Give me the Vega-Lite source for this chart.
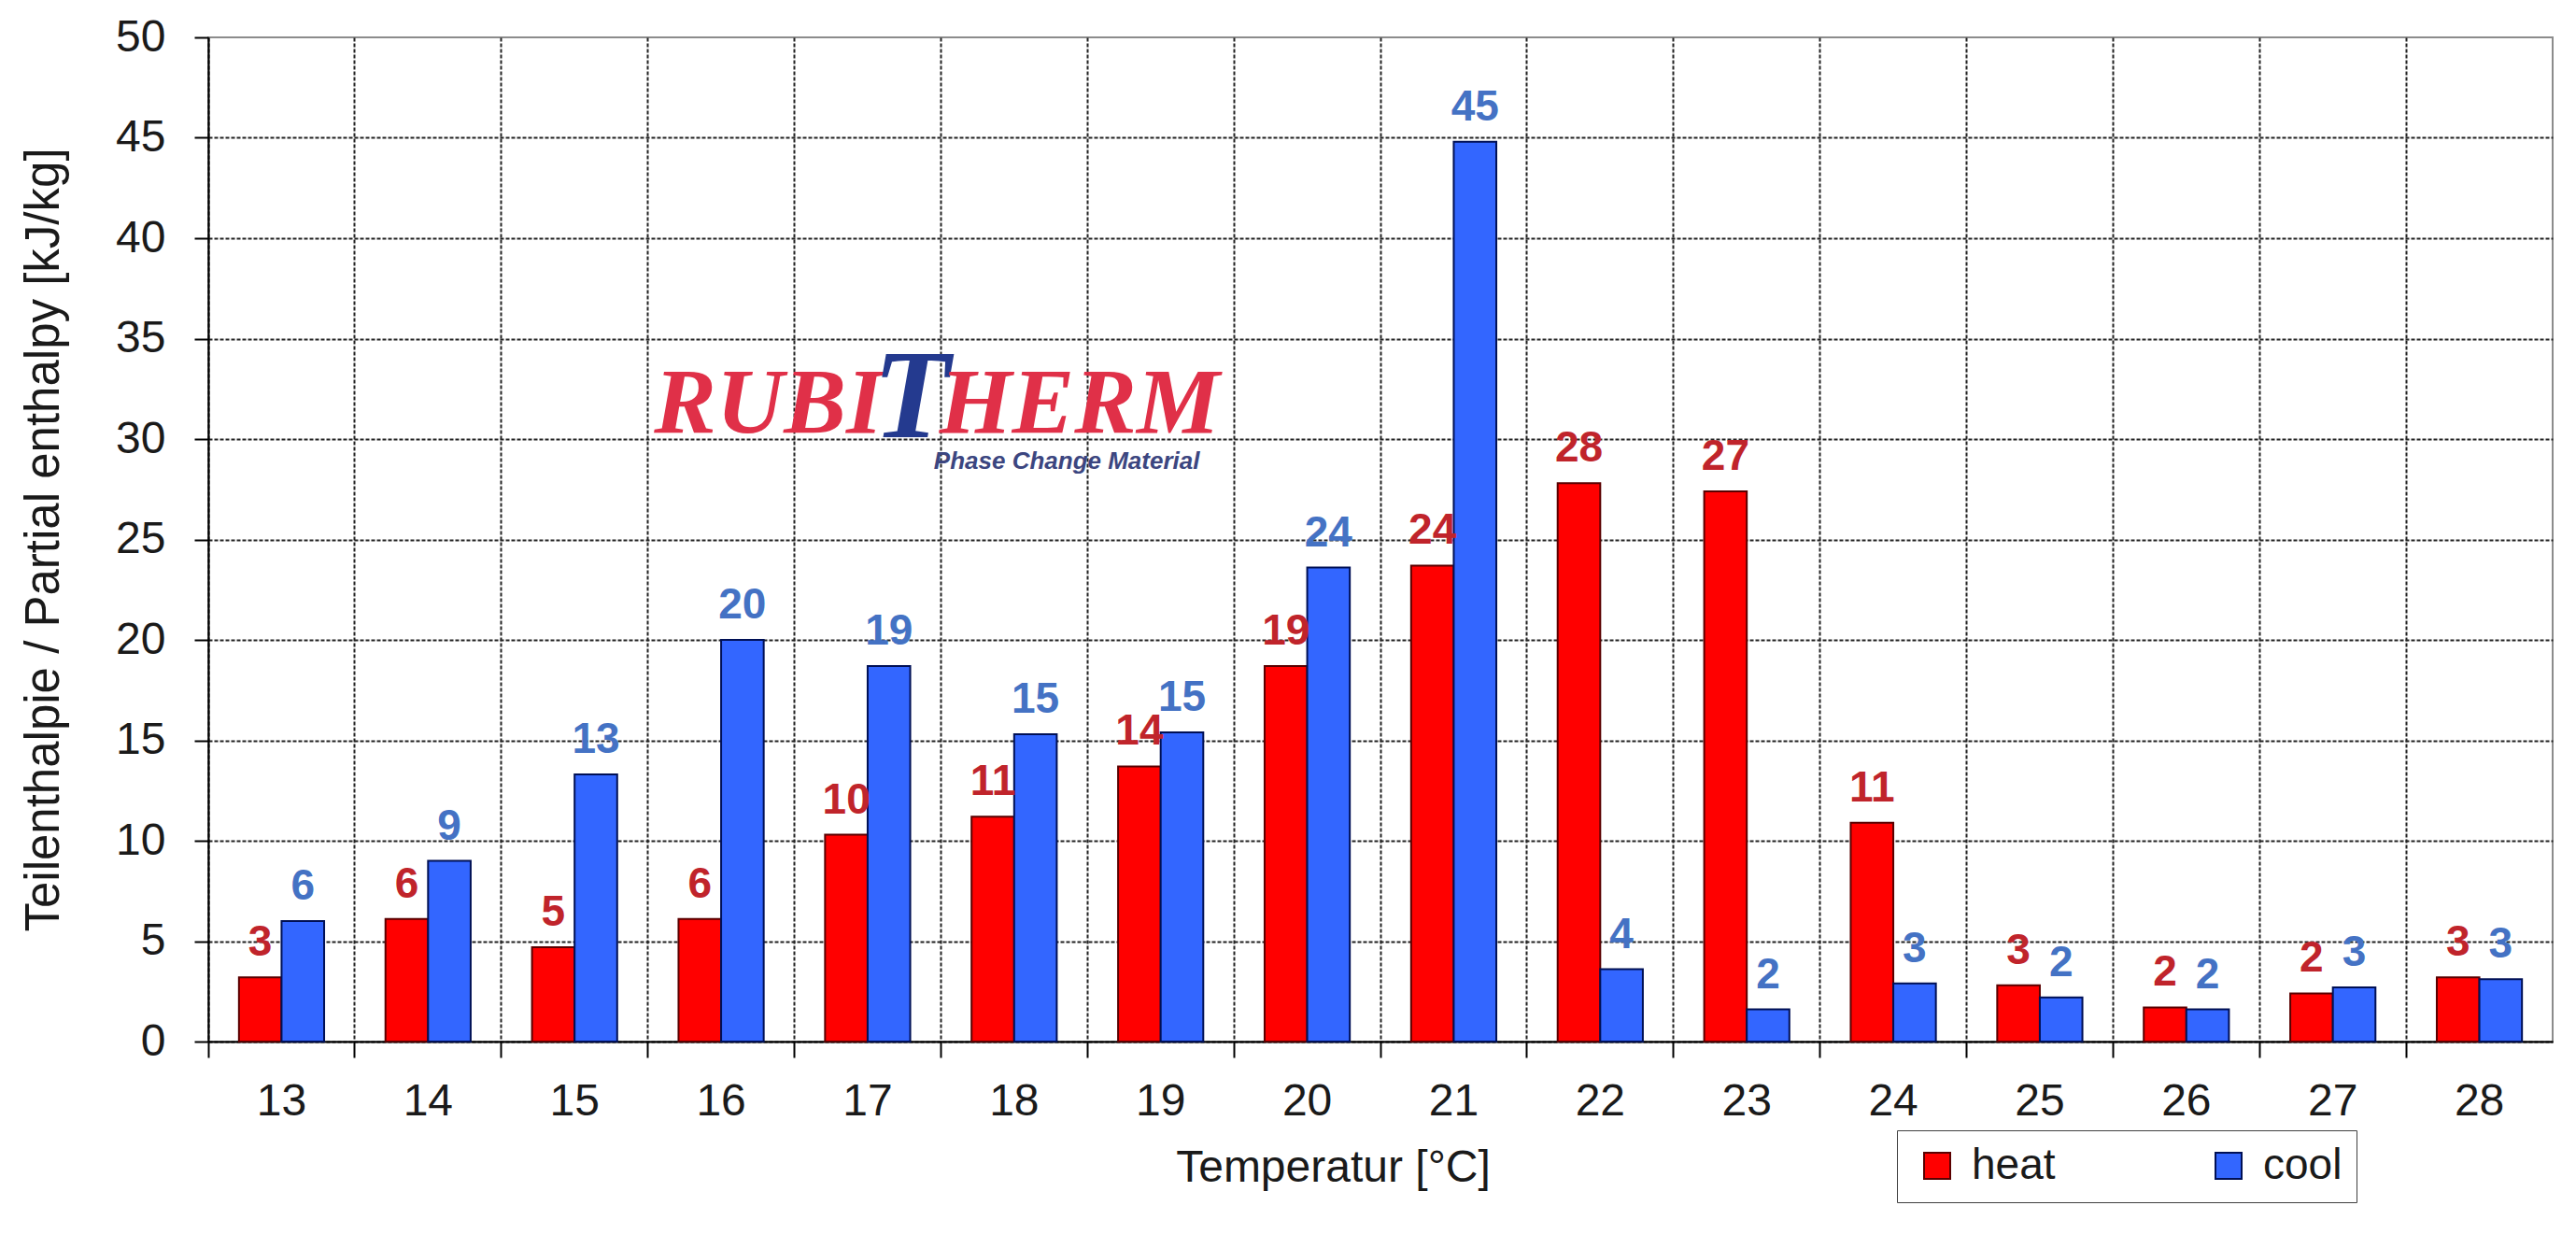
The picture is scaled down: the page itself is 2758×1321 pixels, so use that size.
{
  "$schema": "https://vega.github.io/schema/vega-lite/v6.json",
  "autosize": {"type": "none"},
  "width": 2510,
  "height": 1075,
  "padding": {"left": 223, "top": 40, "right": 25, "bottom": 206},
  "background": "white",
  "config": {
    "font": "Liberation Sans",
    "view": {"stroke": "#8c8c8c", "strokeWidth": 2}
  },
  "datasets": {
    "enthalpy": [
      {"t": "13", "series": "heat", "v": 3.2}, {"t": "13", "series": "cool", "v": 6.0},
      {"t": "14", "series": "heat", "v": 6.1}, {"t": "14", "series": "cool", "v": 9.0},
      {"t": "15", "series": "heat", "v": 4.7}, {"t": "15", "series": "cool", "v": 13.3},
      {"t": "16", "series": "heat", "v": 6.1}, {"t": "16", "series": "cool", "v": 20.0},
      {"t": "17", "series": "heat", "v": 10.3}, {"t": "17", "series": "cool", "v": 18.7},
      {"t": "18", "series": "heat", "v": 11.2}, {"t": "18", "series": "cool", "v": 15.3},
      {"t": "19", "series": "heat", "v": 13.7}, {"t": "19", "series": "cool", "v": 15.4},
      {"t": "20", "series": "heat", "v": 18.7}, {"t": "20", "series": "cool", "v": 23.6},
      {"t": "21", "series": "heat", "v": 23.7}, {"t": "21", "series": "cool", "v": 44.8},
      {"t": "22", "series": "heat", "v": 27.8}, {"t": "22", "series": "cool", "v": 3.6},
      {"t": "23", "series": "heat", "v": 27.4}, {"t": "23", "series": "cool", "v": 1.6},
      {"t": "24", "series": "heat", "v": 10.9}, {"t": "24", "series": "cool", "v": 2.9},
      {"t": "25", "series": "heat", "v": 2.8}, {"t": "25", "series": "cool", "v": 2.2},
      {"t": "26", "series": "heat", "v": 1.7}, {"t": "26", "series": "cool", "v": 1.6},
      {"t": "27", "series": "heat", "v": 2.4}, {"t": "27", "series": "cool", "v": 2.7},
      {"t": "28", "series": "heat", "v": 3.2}, {"t": "28", "series": "cool", "v": 3.1}
    ],
    "logo": [
      {"brand1": "RUBI", "brand2": "T", "brand3": "HERM", "sub": "Phase Change Material"}
    ]
  },
  "layer": [
    {
      "data": {"name": "enthalpy"},
      "encoding": {
        "x": {
          "field": "t", "type": "ordinal",
          "scale": {"paddingInner": 0, "paddingOuter": 0},
          "axis": {
            "title": "Temperatur [°C]",
            "titleFontSize": 48, "titleFontWeight": "normal", "titleColor": "#1a1a1a",
            "titlePadding": 23, "titleX": 1204,
            "labelAngle": 0, "labelFontSize": 48, "labelColor": "#1a1a1a", "labelPadding": 23,
            "tickSize": 17, "tickWidth": 2, "tickColor": "black",
            "domainColor": "black", "domainWidth": 2,
            "bandPosition": 0,
            "grid": true, "gridDash": [4, 2], "gridColor": "#222222", "gridWidth": 2
          }
        },
        "y": {
          "field": "v", "type": "quantitative",
          "scale": {"domain": [0, 50], "nice": false},
          "axis": {
            "title": "Teilenthalpie / Partial enthalpy [kJ/kg]",
            "titleFontSize": 51, "titleFontWeight": "normal", "titleColor": "#1a1a1a",
            "titlePadding": 50,
            "values": [0, 5, 10, 15, 20, 25, 30, 35, 40, 45, 50],
            "labelFontSize": 48, "labelColor": "#1a1a1a", "labelPadding": 31,
            "tickSize": 15, "tickWidth": 2, "tickColor": "black",
            "domainColor": "black", "domainWidth": 2,
            "grid": true, "gridDash": [4, 2], "gridColor": "#222222", "gridWidth": 2,
            "gridOpacity": {"condition": {"test": "datum.value == 50", "value": 0}, "value": 1}
          }
        },
        "xOffset": {"field": "series", "type": "nominal", "scale": {"domain": ["heat", "cool"], "paddingInner": 0, "paddingOuter": 0.72}}
      },
      "layer": [
        {
          "mark": {"type": "bar", "strokeWidth": 2},
          "encoding": {
            "color": {
              "field": "series", "type": "nominal",
              "scale": {"domain": ["heat", "cool"], "range": ["#ff0000", "#3366ff"]},
              "legend": {
                "orient": "none", "legendX": 1808, "legendY": 1170,
                "direction": "horizontal",
                "title": "\u00a0\u00a0\u00a0\u00a0\u00a0\u00a0\u00a0\u00a0\u00a0\u00a0",
                "titleOrient": "left", "titleFontSize": 48, "titlePadding": 5,
                "padding": 15, "strokeColor": "#404040", "fillColor": "white",
                "symbolType": "square", "symbolSize": 784, "symbolStrokeColor": "#222222", "symbolStrokeWidth": 2,
                "labelFont": "Liberation Sans", "labelFontSize": 46, "labelColor": "#1a1a1a", "labelOffset": 14,
                "columnPadding": 162,
                "labelExpr": "datum.label == 'cool' ? 'cool\u00a0\u00a0\u00a0\u00a0\u00a0\u00a0\u00a0\u00a0\u00a0\u00a0' : datum.label"
              }
            },
            "stroke": {
              "field": "series", "type": "nominal",
              "scale": {"domain": ["heat", "cool"], "range": ["#5a0000", "#001055"]},
              "legend": null
            }
          }
        },
        {
          "mark": {"type": "text", "fontSize": 46, "fontWeight": "bold", "baseline": "alphabetic", "dy": -23},
          "encoding": {
            "text": {"field": "v", "type": "quantitative", "format": ".0f"},
            "fill": {
              "field": "series", "type": "nominal",
              "scale": {"domain": ["heat", "cool"], "range": ["#c0242b", "#4472c4"]},
              "legend": null
            }
          }
        }
      ]
    },
    {
      "data": {"name": "logo"},
      "encoding": {
        "x": {"datum": "18", "type": "ordinal"},
        "y": {"datum": 30, "type": "quantitative"}
      },
      "layer": [
        {
          "mark": {"type": "text", "font": "Liberation Serif", "fontSize": 100, "fontWeight": "bold", "fontStyle": "italic", "fill": "#e03048", "align": "right", "baseline": "alphabetic", "dx": -141, "dy": -7},
          "encoding": {"text": {"field": "brand1"}}
        },
        {
          "mark": {"type": "text", "font": "Liberation Serif", "fontSize": 135, "fontWeight": "bold", "fontStyle": "italic", "fill": "#243a8f", "align": "center", "baseline": "alphabetic", "dx": -110, "dy": -2},
          "encoding": {"text": {"field": "brand2"}}
        },
        {
          "mark": {"type": "text", "font": "Liberation Serif", "fontSize": 100, "fontWeight": "bold", "fontStyle": "italic", "fill": "#e03048", "align": "left", "baseline": "alphabetic", "dx": -80, "dy": -7},
          "encoding": {"text": {"field": "brand3"}}
        },
        {
          "mark": {"type": "text", "font": "Liberation Sans", "fontSize": 26, "fontWeight": "bold", "fontStyle": "italic", "fill": "#3c4680", "align": "left", "baseline": "alphabetic", "dx": -86, "dy": 32},
          "encoding": {"text": {"field": "sub"}}
        }
      ]
    }
  ]
}
